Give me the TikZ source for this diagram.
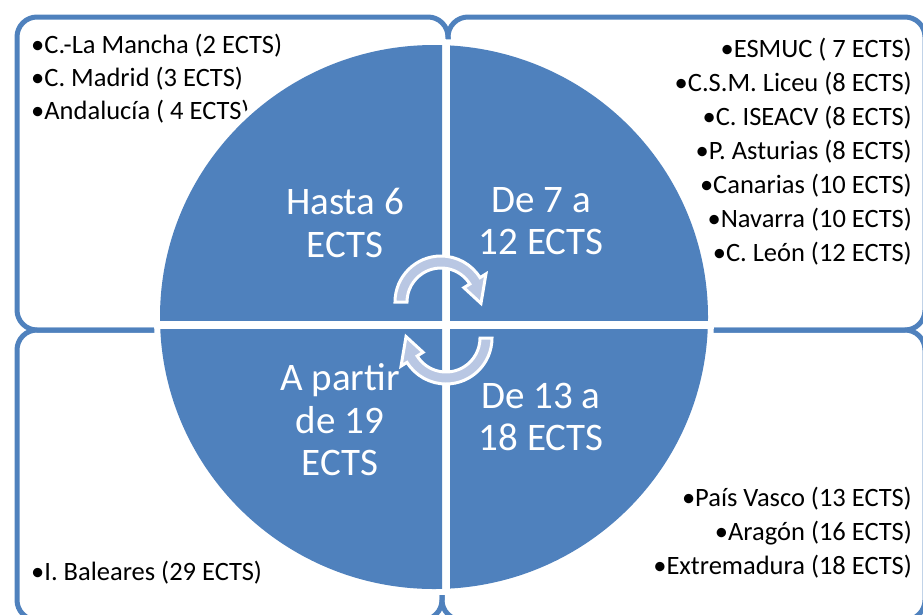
\documentclass[tikz,border=0pt]{standalone}
\usepackage{fontspec}
\setmainfont{Carlito}
\definecolor{pieblue}{RGB}{79,129,189}
\definecolor{arrowfill}{RGB}{185,199,227}
\begin{document}
\begin{tikzpicture}[x=1pt,y=-1pt,
  boxline/.style={draw=pieblue, line width=5pt, rounded corners=20pt},
  itemL/.style={anchor=base west, font=\fontsize{26.5}{32}\selectfont, inner sep=0pt},
  itemR/.style={anchor=base east, font=\fontsize{26.5}{32}\selectfont, inner sep=0pt},
  bigtext/.style={anchor=base, text=white, font=\fontsize{39}{43}\selectfont, inner sep=0pt},
  cyclearrow/.style={fill=arrowfill, draw=white, line width=3pt, line join=miter}]
\useasboundingbox (0,0) rectangle (923,614);
\clip (0,0) rectangle (923,614);
% boxes
\draw[boxline] (17,17) rectangle (448,330);
\draw[boxline] (448,17) rectangle (925,330);
\draw[boxline] (17,330) rectangle (442,620);
\draw[boxline] (442,330) rectangle (925,620);
% list texts
\node[itemL] (l1) at (31,53) {•C.-La Mancha (2 ECTS)};
\node[itemL] (l2) at (31,86) {•C. Madrid (3 ECTS)};
\node[itemL] (l3) at (31,119) {•Andalucía ( 4 ECTS)};
\node[itemR] (r1) at (912,57) {•ESMUC ( 7 ECTS)};
\node[itemR] (r2) at (912,91) {•C.S.M. Liceu (8 ECTS)};
\node[itemR] (r3) at (912,125) {•C. ISEACV (8 ECTS)};
\node[itemR] (r4) at (912,159) {•P. Asturias (8 ECTS)};
\node[itemR] (r5) at (912,193) {•Canarias (10 ECTS)};
\node[itemR] (r6) at (912,227) {•Navarra (10 ECTS)};
\node[itemR] (r7) at (912,261) {•C. León (12 ECTS)};
\node[itemR] (b1) at (912,506) {•País Vasco (13 ECTS)};
\node[itemR] (b2) at (912,540) {•Aragón (16 ECTS)};
\node[itemR] (b3) at (912,574) {•Extremadura (18 ECTS)};
\node[itemL] (c1) at (31,580) {•I. Baleares (29 ECTS)};
% circle
\fill[white] (434,317) ellipse [x radius=280pt, y radius=278pt];
\begin{scope}
  \clip (100,0) rectangle (442,320);
  \fill[pieblue] (434,317) ellipse [x radius=274pt, y radius=272pt];
\end{scope}
\begin{scope}
  \clip (450,0) rectangle (800,320);
  \fill[pieblue] (434,317) ellipse [x radius=274pt, y radius=272pt];
\end{scope}
\begin{scope}
  \clip (100,329) rectangle (442,700);
  \fill[pieblue] (434,317) ellipse [x radius=274pt, y radius=272pt];
\end{scope}
\begin{scope}
  \clip (450,329) rectangle (800,700);
  \fill[pieblue] (434,317) ellipse [x radius=274pt, y radius=272pt];
\end{scope}
% big texts
\node[bigtext] (q1a) at (345,214) {Hasta 6};
\node[bigtext] (q1b) at (345,257) {ECTS};
\node[bigtext] (q2a) at (541,212) {De 7 a};
\node[bigtext] (q2b) at (541,254) {12 ECTS};
\node[bigtext] (q3a) at (340,390) {A partir};
\node[bigtext] (q3b) at (340,433) {de 19};
\node[bigtext] (q3c) at (340,475) {ECTS};
\node[bigtext] (q4a) at (541,408) {De 13 a};
\node[bigtext] (q4b) at (541,450) {18 ECTS};
% cycle arrows
\begin{scope}[shift={(441,302)}, yscale=-1]
  \draw[cyclearrow] (180:34) -- (180:46) arc[start angle=180, end angle=32, radius=46]
    -- (32:53) -- (-2:40) -- (32:27) -- (32:34) arc[start angle=32, end angle=180, radius=34] -- cycle;
\end{scope}
\begin{scope}[shift={(446,338)}, yscale=-1, rotate=180]
  \draw[cyclearrow] (180:34) -- (180:46) arc[start angle=180, end angle=32, radius=46]
    -- (32:53) -- (-2:40) -- (32:27) -- (32:34) arc[start angle=32, end angle=180, radius=34] -- cycle;
\end{scope}
\end{tikzpicture}
\end{document}
